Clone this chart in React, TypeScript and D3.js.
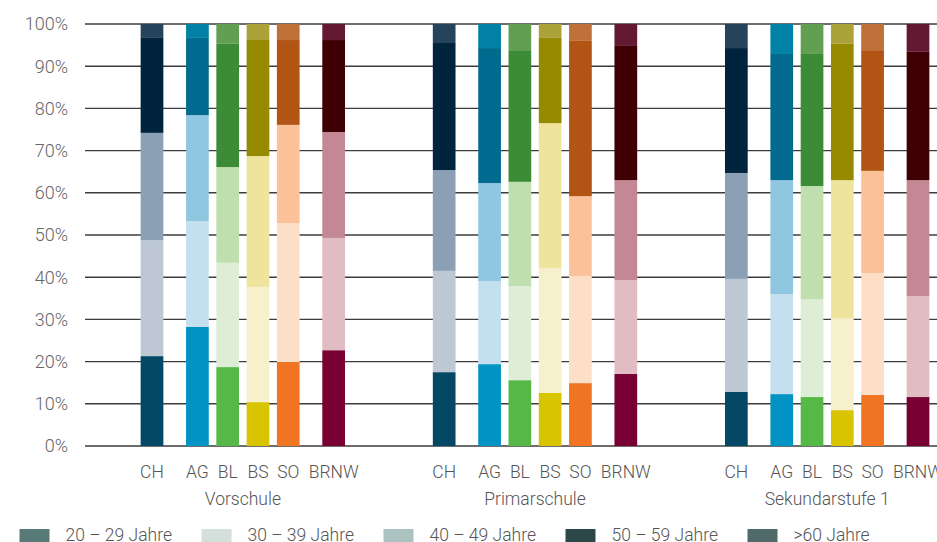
import React from "react";
import * as d3 from "d3";

const cantons = ["CH", "AG", "BL", "BS", "SO", "BRNW"];
const levels = ["Vorschule", "Primarschule", "Sekundarstufe 1"];
const ageGroups = ["20 – 29 Jahre", "30 – 39 Jahre", "40 – 49 Jahre", "50 – 59 Jahre", ">60 Jahre"];
const yTicks = [0, 10, 20, 30, 40, 50, 60, 70, 80, 90, 100];

// values in %, order: Vorschule (CH..BRNW), Primarschule, Sekundarstufe 1
const age2029 = [21.3, 28.2, 18.7, 10.4, 19.9, 22.7, 17.5, 19.4, 15.6, 12.6, 14.9, 17.1, 12.8, 12.3, 11.6, 8.5, 12.1, 11.6];
const age3039 = [27.5, 25.1, 24.7, 27.3, 32.9, 26.6, 24.0, 19.7, 22.3, 29.6, 25.4, 22.2, 26.8, 23.7, 23.2, 21.8, 28.9, 23.9];
const age4049 = [25.4, 25.1, 22.7, 31.0, 23.3, 25.1, 23.9, 23.2, 24.7, 34.3, 18.9, 23.7, 25.1, 27.0, 26.8, 32.7, 24.2, 27.5];
const age5059 = [22.5, 18.3, 29.2, 27.7, 20.1, 21.8, 30.1, 32.0, 31.2, 20.2, 36.8, 31.8, 29.6, 29.9, 31.3, 32.3, 28.6, 30.4];
const age60 = [3.3, 3.3, 4.7, 3.6, 3.8, 3.8, 4.5, 5.7, 6.2, 3.3, 4.0, 5.2, 5.7, 7.1, 7.1, 4.7, 6.2, 6.6];
const series = [age2029, age3039, age4049, age5059, age60];

// colours per canton, one per age group (bottom to top)
const cantonColors: Record<string, string[]> = {
  CH: ["#044866", "#bec8d5", "#8ba0b5", "#00243d", "#25445c"],
  AG: ["#0093c4", "#c4e0ee", "#8fc7e1", "#006b8e", "#0081a5"],
  BL: ["#56b947", "#ddedd6", "#bfdfae", "#3c8b37", "#629f52"],
  BS: ["#d8c400", "#f6f0cd", "#efe49e", "#958a00", "#aca23a"],
  SO: ["#f07422", "#fddfc8", "#fbc29a", "#b25414", "#c07039"],
  BRNW: ["#780033", "#e1bcc3", "#c38893", "#3e0005", "#641932"],
};
const legendColors = ["#587a77", "#d5dfdc", "#acc2c0", "#2b4747", "#4f6a69"];

// slot layout inside a group (in bar units)
const slotOffset = [-1.5, 0, 1, 2, 3, 4.5];
const groupSpan = 9.65;

const W = 937;
const H = 542;
const font = "Roboto, 'Open Sans', sans-serif";

export default function App() {
  const y = d3.scaleLinear().domain([0, 100]).range([446, 24]);
  const x = d3
    .scaleLinear()
    .domain([slotOffset[0], 2 * groupSpan + slotOffset[5]])
    .range([152, 918]);
  const unit = x(1) - x(0);
  const barW = unit * 0.75;
  const fmt = (v: number) => `${v}%`;

  const bars: React.ReactNode[] = [];
  const labels: React.ReactNode[] = [];
  levels.forEach((lvl, g) => {
    cantons.forEach((c, i) => {
      const idx = g * cantons.length + i;
      const cx = x(g * groupSpan + slotOffset[i]);
      let cum = 0;
      series.forEach((s, k) => {
        const v = s[idx];
        const top = k === series.length - 1 ? 100 : cum + v;
        bars.push(
          <rect
            key={`${g}-${c}-${k}`}
            x={cx - barW / 2}
            width={barW}
            y={y(top)}
            height={y(cum) - y(top)}
            fill={cantonColors[c][k]}
          />
        );
        cum = top;
      });
      labels.push(
        <text key={`l-${g}-${c}`} x={cx} y={478} textAnchor="middle" fontSize={17.5} fill="#555" fontFamily={font} fontWeight={300}>
          {c}
        </text>
      );
    });
    const gx0 = x(g * groupSpan + slotOffset[0]) - barW / 2;
    const gx1 = x(g * groupSpan + slotOffset[5]) + barW / 2;
    labels.push(
      <text key={`g-${g}`} x={(gx0 + gx1) / 2} y={505} textAnchor="middle" fontSize={17.5} fill="#555" fontFamily={font} fontWeight={300}>
        {lvl}
      </text>
    );
  });

  return (
    <svg width={W} height={H} style={{ position: "absolute", left: 0, top: 0, background: "#fff" }}>
      {yTicks.map((t) => (
        <g key={t}>
          <line x1={85} x2={W} y1={y(t)} y2={y(t)} stroke="#3c3c3c" strokeWidth={1.4} />
          <text x={68} y={y(t)} dy="0.36em" textAnchor="end" fontSize={18} fill="#666" fontFamily={font} fontWeight={300}>
            {fmt(t)}
          </text>
        </g>
      ))}
      {bars}
      {labels}
      {ageGroups.map((a, k) => (
        <g key={a} transform={`translate(${19.5 + k * 182},0)`}>
          <rect x={0} y={529} width={30} height={14} fill={legendColors[k]} />
          <text x={46} y={541} fontSize={17.5} fill="#555" fontFamily={font} fontWeight={300}>
            {a}
          </text>
        </g>
      ))}
    </svg>
  );
}
